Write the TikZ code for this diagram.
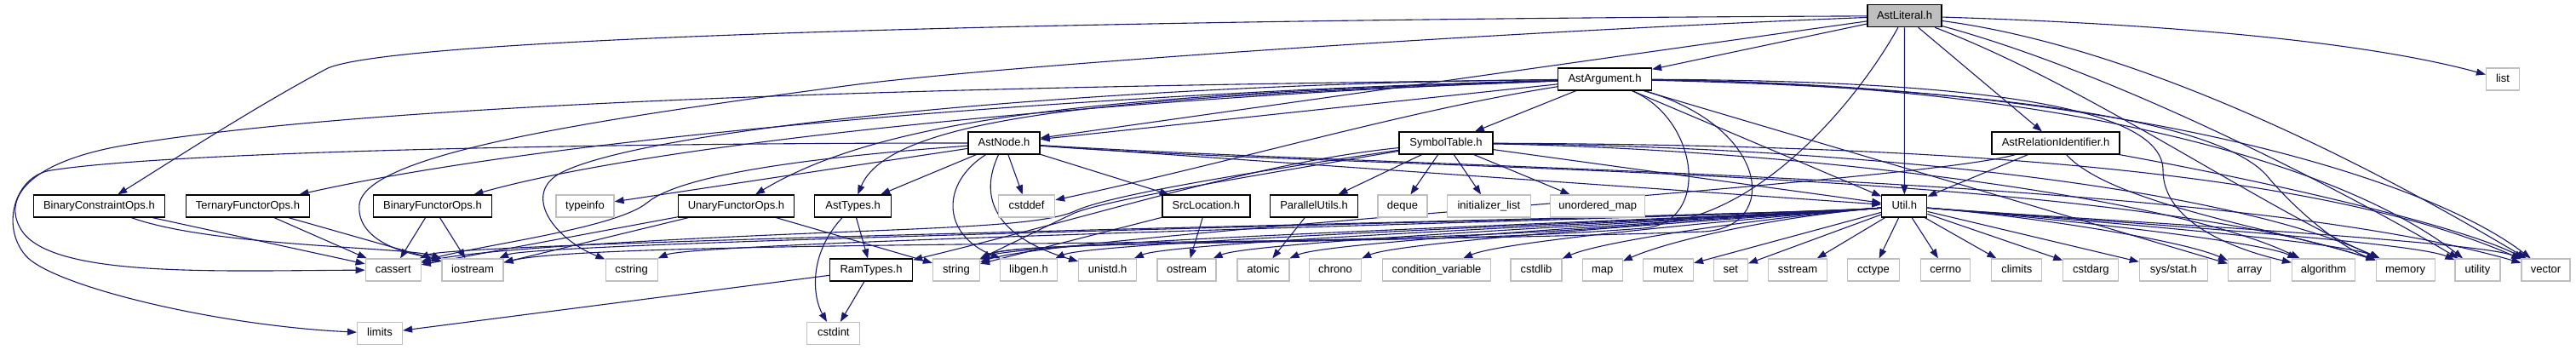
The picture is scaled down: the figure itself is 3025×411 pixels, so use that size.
\documentclass[tikz,border=0pt]{standalone}
\usepackage{fontspec}
\setmainfont{Liberation Sans}
\usetikzlibrary{arrows.meta,calc}
\definecolor{edgec}{HTML}{191970}
\definecolor{gbord}{HTML}{BFBFBF}
\pgfdeclarelayer{bg}
\pgfsetlayers{bg,main}
\begin{document}
\begin{tikzpicture}[x=1pt,y=-1pt,
  hbox/.style={draw=black,line width=1.2pt,fill=white,minimum height=26pt,inner sep=0pt,
    text height=9.4pt,text depth=2.6pt,font=\fontsize{13}{15}\selectfont},
  sbox/.style={hbox,draw=gbord},
  dep/.style={draw=edgec,line width=1.1pt,-{Triangle[length=11pt,width=8pt]}}]
\useasboundingbox (0,0) rectangle (3025,411);
% row 0
\node[hbox,fill=gbord,minimum width=87pt] (L) at (2236.5,18.7) {AstLiteral.h};
% row 1
\node[hbox,minimum width=110pt] (A) at (1884.5,93) {AstArgument.h};
\node[sbox,minimum width=39pt] (lst) at (2939,93) {list};
% row 2
\node[hbox,minimum width=84pt] (N) at (1179,168) {AstNode.h};
\node[hbox,minimum width=110pt] (ST) at (1698,168) {SymbolTable.h};
\node[hbox,minimum width=150pt] (ARI) at (2414,168) {AstRelationIdentifier.h};
% row 3
\node[hbox,minimum width=154pt] (BCO) at (116.4,242) {BinaryConstraintOps.h};
\node[hbox,minimum width=145pt] (TFO) at (291,242) {TernaryFunctorOps.h};
\node[hbox,minimum width=139pt] (BFO) at (508,242) {BinaryFunctorOps.h};
\node[sbox,minimum width=68pt] (ti) at (687,242) {typeinfo};
\node[hbox,minimum width=136pt] (UFO) at (864.5,242) {UnaryFunctorOps.h};
\node[hbox,minimum width=90pt] (AT) at (1001.6,242) {AstTypes.h};
\node[sbox,minimum width=66pt] (cdef) at (1205.6,242) {cstddef};
\node[hbox,minimum width=103pt] (SL) at (1416.4,242) {SrcLocation.h};
\node[hbox,minimum width=103pt] (PU) at (1543,242) {ParallelUtils.h};
\node[sbox,minimum width=58pt] (deq) at (1647,242) {deque};
\node[sbox,minimum width=98pt] (il) at (1748.4,242) {initializer\_list};
\node[sbox,minimum width=111pt] (um) at (1876.3,242) {unordered\_map};
\node[hbox,minimum width=53pt] (U) at (2236.3,242) {Util.h};
% row 4
\node[sbox,minimum width=65pt] (cas) at (461.7,317) {cassert};
\node[sbox,minimum width=72pt] (ios) at (555,317) {iostream};
\node[sbox,minimum width=61pt] (cstr) at (741.6,317) {cstring};
\node[hbox,minimum width=97pt] (RT) at (1023,317) {RamTypes.h};
\node[sbox,minimum width=55pt] (str) at (1123,317) {string};
\node[sbox,minimum width=67pt] (lg) at (1208,317) {libgen.h};
\node[sbox,minimum width=68pt] (uni) at (1300.7,317) {unistd.h};
\node[sbox,minimum width=69pt] (ost) at (1393.5,317) {ostream};
\node[sbox,minimum width=61pt] (atm) at (1483.4,317) {atomic};
\node[sbox,minimum width=61pt] (chr) at (1568,317) {chrono};
\node[sbox,minimum width=127pt] (cv) at (1687,317) {condition\_variable};
\node[sbox,minimum width=60pt] (csl) at (1804,317) {cstdlib};
\node[sbox,minimum width=47pt] (mp) at (1881.7,317) {map};
\node[sbox,minimum width=59pt] (mtx) at (1959,317) {mutex};
\node[sbox,minimum width=40pt] (sett) at (2032.3,317) {set};
\node[sbox,minimum width=69pt] (ss) at (2111,317) {sstream};
\node[sbox,minimum width=61pt] (cct) at (2200,317) {cctype};
\node[sbox,minimum width=58pt] (cer) at (2284.7,317) {cerrno};
\node[sbox,minimum width=59pt] (cli) at (2368.3,317) {climits};
\node[sbox,minimum width=65pt] (csa) at (2455.3,317) {cstdarg};
\node[sbox,minimum width=80pt] (sys) at (2552.3,317) {sys/stat.h};
\node[sbox,minimum width=50pt] (arr) at (2641.6,317) {array};
\node[sbox,minimum width=74pt] (alg) at (2728.5,317) {algorithm};
\node[sbox,minimum width=69pt] (mem) at (2824.6,317) {memory};
\node[sbox,minimum width=53pt] (utl) at (2909.5,317) {utility};
\node[sbox,minimum width=57pt] (vec) at (2989.5,317) {vector};
% row 5
\node[sbox,minimum width=53pt] (lim) at (446,391.5) {limits};
\node[sbox,minimum width=62pt] (cint) at (978.8,391.5) {cstdint};

\begin{pgfonlayer}{bg}
\fill[white] (0,0) rectangle (3025,411);
% AstLiteral.h
\draw[dep] (L) -- (A);
\draw[dep] (L) -- (N);
\draw[dep] (L) -- (ARI);
\draw[dep] (L) -- (U);
\draw[dep] (L) .. controls (1400,22) and (480,40) .. (385,80) .. controls (300,125) and (200,190) .. (BCO);
\draw[dep] (L) .. controls (1700,40) and (1150,80) .. (1000,100) .. controls (700,140) and (430,180) .. (422,240) .. controls (418,280) and (470,298) .. (ios.north west);
\draw[dep] (L) .. controls (2600,30) and (2800,55) .. (lst);
\draw[dep] (L) .. controls (2450,100) and (2650,240) .. (mem);
\draw[dep] (L) .. controls (2500,90) and (2780,240) .. (utl);
\draw[dep] (L) .. controls (2550,60) and (2860,240) .. (vec);
\draw[dep] (L) .. controls (2180,120) and (2070,250) .. (1950,262) .. controls (1650,290) and (1200,280) .. (str);
% AstArgument.h
\draw[dep] (A) -- (N);
\draw[dep] (A) -- (ST);
\draw[dep] (A) -- (U);
\draw[dep] (A) -- (arr);
\draw[dep] (A) .. controls (1400,112) and (1050,125) .. (AT);
\draw[dep] (A) .. controls (1300,100) and (500,112) .. (150,170) .. controls (40,188) and (0,230) .. (25,270) .. controls (60,326) and (250,318) .. (cas);
\draw[dep] (A) .. controls (1400,105) and (700,150) .. (TFO);
\draw[dep] (A) .. controls (1400,110) and (800,160) .. (BFO);
\draw[dep] (A) .. controls (1350,110) and (1050,130) .. (UFO);
\draw[dep] (A) .. controls (1650,130) and (1450,190) .. (cdef);
\draw[dep] (A) .. controls (1300,98) and (750,150) .. (655,205) .. controls (615,230) and (650,280) .. (cstr);
\draw[dep] (A) .. controls (1995,140) and (2010,262) .. (1930,268) .. controls (1650,290) and (1200,280) .. (str);
\draw[dep] (A) .. controls (2080,150) and (2090,268) .. (2000,272) .. controls (1500,290) and (700,282) .. (ios);
\draw[dep] (A) .. controls (2350,95) and (2540,130) .. (2540,200) .. controls (2540,260) and (2620,292) .. (alg);
\draw[dep] (A) .. controls (2400,105) and (2620,150) .. (2665,210) .. controls (2710,262) and (2760,295) .. (mem);
\draw[dep] (A) .. controls (2450,100) and (2760,200) .. (utl);
\draw[dep] (A) .. controls (2500,100) and (2850,210) .. (vec);
% AstNode.h
\draw[dep] (N) -- (AT);
\draw[dep] (N) -- (SL);
\draw[dep] (N) -- (cdef);
\draw[dep] (N) -- (ti);
\draw[dep] (N) -- (U);
\draw[dep] (N) .. controls (1105,215) and (1105,275) .. (lg);
\draw[dep] (N) .. controls (1145,240) and (1180,282) .. (uni);
\draw[dep] (N) .. controls (700,168) and (200,178) .. (60,200) .. controls (18,206) and (0,265) .. (30,300) .. controls (60,335) and (250,382) .. (lim);
\draw[dep] (N) .. controls (950,185) and (800,205) .. (760,238) .. controls (722,269) and (560,288) .. (cas);
\draw[dep] (N) .. controls (1600,200) and (2450,195) .. (mem);
\draw[dep] (N) .. controls (1700,200) and (2600,205) .. (vec);
% SymbolTable.h
\draw[dep] (ST) -- (PU);
\draw[dep] (ST) -- (deq);
\draw[dep] (ST) -- (il);
\draw[dep] (ST) -- (um);
\draw[dep] (ST) -- (U);
\draw[dep] (ST) .. controls (1480,190) and (1300,250) .. (RT);
\draw[dep] (ST) .. controls (1450,210) and (1300,235) .. (1262,250) .. controls (1230,265) and (1190,285) .. (str);
\draw[dep] (ST) .. controls (1450,205) and (1300,230) .. (1262,248) .. controls (1230,262) and (1150,266) .. (1000,272) .. controls (800,280) and (560,292) .. (cas);
\draw[dep] (ST) .. controls (2100,175) and (2550,230) .. (alg);
\draw[dep] (ST) .. controls (2150,172) and (2600,215) .. (mem);
\draw[dep] (ST) .. controls (2200,170) and (2700,190) .. (vec);
% AstRelationIdentifier.h
\draw[dep] (ARI) -- (U);
\draw[dep] (ARI) .. controls (2250,215) and (1250,275) .. (str);
\draw[dep] (ARI) .. controls (2480,240) and (2680,270) .. (mem);
\draw[dep] (ARI) .. controls (2700,220) and (2900,270) .. (vec);
% Util.h
\foreach \t in {cas,ios,cstr,str,lg,uni,ost,atm,chr,cv,csl,mp}
  \draw[dep] (U) .. controls +(-150,12) and +(80,-35) .. (\t);
\foreach \t in {arr,alg,mem,utl,vec}
  \draw[dep] (U) .. controls +(150,12) and +(-80,-35) .. (\t);
\foreach \t in {mtx,sett,ss,cct,cer,cli,csa,sys}
  \draw[dep] (U) -- (\t);
% others
\draw[dep] (PU) -- (atm);
\draw[dep] (SL) -- (ost);
\draw[dep] (SL) -- (str);
\draw[dep] (UFO) -- (cas);
\draw[dep] (UFO) -- (ios);
\draw[dep] (UFO) -- (str);
\draw[dep] (BFO) -- (cas);
\draw[dep] (BFO) -- (ios);
\draw[dep] (TFO) -- (cas);
\draw[dep] (TFO) -- (ios);
\draw[dep] (BCO) -- (cas);
\draw[dep] (BCO) .. controls (250,290) and (480,290) .. (ios);
\draw[dep] (AT) -- (RT);
\draw[dep] (AT) .. controls (948,300) and (955,350) .. (cint);
\draw[dep] (RT) -- (cint);
\draw[dep] (RT) -- (lim);
\end{pgfonlayer}
\end{tikzpicture}
\end{document}
